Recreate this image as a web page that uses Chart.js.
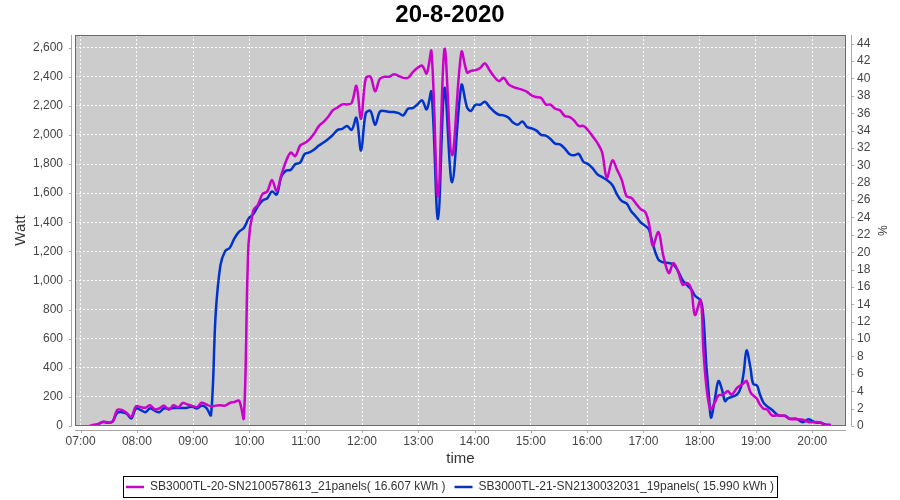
<!DOCTYPE html>
<html><head><meta charset="utf-8">
<script src="https://cdn.jsdelivr.net/npm/chart.js@4.4.1/dist/chart.umd.min.js"></script>
<style>html,body{margin:0;padding:0;background:#fff;}</style>
</head><body>
<canvas id="c" width="900" height="500"></canvas>
<script>
const chartTitle = '20-8-2020';
const seriesNames = ['SB3000TL-20-SN2100578613_21panels( 16.607 kWh )', 'SB3000TL-21-SN2130032031_19panels( 15.990 kWh )'];
const times = ["07:09","07:14","07:19","07:24","07:29","07:34","07:39","07:44","07:49","07:54","07:59","08:04","08:09","08:14","08:19","08:24","08:29","08:34","08:39","08:44","08:49","08:54","08:59","09:04","09:09","09:14","09:19","09:24","09:29","09:34","09:39","09:44","09:49","09:54","09:59","10:04","10:09","10:14","10:19","10:24","10:29","10:34","10:39","10:44","10:49","10:54","10:59","11:04","11:09","11:14","11:19","11:24","11:29","11:34","11:39","11:44","11:49","11:54","11:59","12:04","12:09","12:14","12:19","12:24","12:29","12:34","12:39","12:44","12:49","12:54","12:59","13:04","13:09","13:14","13:21","13:28","13:36","13:46","13:52","13:56","14:01","14:06","14:11","14:16","14:21","14:26","14:31","14:36","14:41","14:46","14:51","14:56","15:01","15:06","15:11","15:16","15:21","15:26","15:31","15:36","15:41","15:46","15:51","15:56","16:01","16:06","16:11","16:16","16:21","16:27","16:32","16:37","16:42","16:47","16:52","16:57","17:02","17:06","17:10","17:16","17:21","17:27","17:32","17:37","17:42","17:47","17:51","17:55","18:01","18:04","18:07","18:10","18:12","18:16","18:20","18:24","18:27","18:30","18:34","18:40","18:44","18:47","18:50","18:54","18:57","19:01","19:04","19:08","19:12","19:17","19:24","19:31","19:36","19:43","19:50","19:56","20:04","20:09","20:14","20:20"];
const sb20 = [0,8,15,30,25,30,110,110,90,62,135,130,125,142,115,120,140,112,142,128,158,148,138,130,160,148,135,140,142,140,158,165,174,53,1250,1480,1520,1595,1612,1690,1616,1725,1820,1879,1855,1927,1945,1970,2010,2061,2090,2125,2170,2190,2210,2210,2220,2337,2111,2390,2400,2300,2385,2400,2400,2418,2405,2393,2393,2430,2460,2476,2423,2575,1577,2591,1860,2570,2430,2440,2446,2460,2492,2445,2400,2370,2393,2350,2330,2320,2310,2296,2270,2261,2254,2210,2208,2180,2170,2131,2124,2100,2062,2062,2032,1990,1945,1880,1706,1825,1760,1690,1580,1568,1530,1490,1470,1390,1239,1333,1177,1051,1120,1060,970,982,940,763,867,520,280,142,114,160,210,215,225,240,215,263,280,295,309,233,210,187,150,119,114,73,73,69,48,46,43,27,27,23,5,5];
const sb21 = [null,0,13,28,22,30,90,95,85,52,120,110,95,122,105,95,122,118,124,124,124,126,133,120,140,124,75,772,1103,1201,1224,1290,1336,1360,1425,1455,1510,1550,1565,1612,1590,1715,1755,1760,1800,1810,1870,1880,1900,1927,1948,1972,2000,2035,2042,2062,2035,2118,1893,2150,2165,2070,2160,2165,2158,2158,2150,2135,2180,2185,2210,2238,2176,2296,1422,2323,1675,2342,2190,2165,2208,2208,2228,2192,2160,2139,2135,2120,2085,2070,2093,2054,2045,2030,2001,1995,1972,1940,1935,1908,1870,1860,1870,1816,1800,1770,1729,1710,1690,1655,1590,1545,1530,1476,1440,1400,1375,1349,1250,1143,1125,1120,1110,1065,1000,965,940,895,862,747,427,199,57,176,309,245,171,190,199,217,267,370,519,405,290,279,222,160,135,112,73,70,50,50,25,46,23,23,11,7];
const wattRange = [0, 2687];
const pctRange = [0, 45];
const timeRange = ["06:54", "20:36"];

const toMin = s => { const [h, m] = s.split(':').map(Number); return h * 60 + m; };
const pts = vals => times.map((t, i) => ({x: toMin(t), y: vals[i]}));

Chart.defaults.font.family = '"Liberation Sans", Arial, sans-serif';
Chart.defaults.font.size = 12;
Chart.defaults.color = '#444';

const decor = {
  id: 'decor',
  beforeDraw(chart) {
    const {ctx, chartArea: a} = chart;
    ctx.save();
    ctx.fillStyle = '#ffffff';
    ctx.fillRect(0, 0, chart.width, chart.height);
    ctx.fillStyle = '#cccccc';
    ctx.fillRect(a.left, a.top, a.right - a.left, a.bottom - a.top);
    ctx.restore();
  },
  afterDraw(chart) {
    const {ctx, chartArea: a, scales} = chart;
    ctx.save();
    ctx.lineWidth = 1;
    ctx.strokeStyle = '#6a6a6a';
    ctx.strokeRect(Math.round(a.left) + 0.5, Math.round(a.top) + 0.5, Math.round(a.right - a.left) - 1, Math.round(a.bottom - a.top) - 1);
    ctx.strokeStyle = '#a8a8a8';
    ctx.beginPath();
    const lx = Math.round(a.left - 4) + 0.5;
    ctx.moveTo(lx, a.top); ctx.lineTo(lx, a.bottom);
    scales.y.ticks.forEach(t => { const y = Math.round(scales.y.getPixelForValue(t.value)) + 0.5; ctx.moveTo(lx - 2.5, y); ctx.lineTo(lx, y); });
    const by = Math.round(a.bottom + 4) + 0.5;
    ctx.moveTo(a.left, by); ctx.lineTo(a.right, by);
    scales.x.ticks.forEach(t => { const x = Math.round(scales.x.getPixelForValue(t.value)) + 0.5; ctx.moveTo(x, by); ctx.lineTo(x, by + 2.5); });
    const rx = Math.round(a.right + 5) + 0.5;
    ctx.moveTo(rx, a.top); ctx.lineTo(rx, a.bottom);
    scales.y1.ticks.forEach(t => { const y = Math.round(scales.y1.getPixelForValue(t.value)) + 0.5; ctx.moveTo(rx, y); ctx.lineTo(rx + 2.5, y); });
    ctx.stroke();
    const lg = chart.legend;
    if (lg && lg.legendHitBoxes && lg.legendHitBoxes.length) {
      const hb = lg.legendHitBoxes;
      const l = Math.min(...hb.map(h => h.left)), r = Math.max(...hb.map(h => h.left + h.width));
      const t = Math.min(...hb.map(h => h.top)), b = Math.max(...hb.map(h => h.top + h.height));
      ctx.strokeStyle = '#000';
      ctx.strokeRect(Math.round(l - 3) + 0.5, Math.round(t - 5) + 0.5, Math.round(r - l + 6), Math.round(b - t + 9));
    }
    ctx.restore();
  }
};

new Chart(document.getElementById('c'), {
  type: 'line',
  data: {
    datasets: [
      {label: seriesNames[0], data: pts(sb20), borderColor: '#cc00cc', backgroundColor: '#cc00cc', borderWidth: 2.5, pointRadius: 0, tension: 0.35, yAxisID: 'y'},
      {label: seriesNames[1], data: pts(sb21), borderColor: '#0033cc', backgroundColor: '#0033cc', borderWidth: 2.5, pointRadius: 0, tension: 0.35, yAxisID: 'y'}
    ]
  },
  options: {
    responsive: false,
    animation: false,
    layout: {padding: {top: 0, bottom: -3, left: 0, right: 0}},
    plugins: {
      title: {display: true, text: chartTitle, color: '#000', font: {size: 24, weight: 'bold', lineHeight: 1}, padding: {top: 3, bottom: 8}},
      legend: {position: 'bottom', labels: {usePointStyle: true, pointStyle: 'line', pointStyleWidth: 18, boxHeight: 12, padding: 9, color: '#333', font: {size: 12}}},
      tooltip: {enabled: false}
    },
    scales: {
      x: {
        type: 'linear', min: toMin(timeRange[0]), max: toMin(timeRange[1]),
        afterBuildTicks: s => { s.ticks = s.ticks.filter(t => t.value % 60 === 0 && t.value >= s.min && t.value <= s.max); },
        afterFit: s => { s.height = 46; },
        ticks: {stepSize: 60, includeBounds: false, autoSkip: false, maxRotation: 0, padding: 8, color: '#444',
          callback: v => String(Math.floor(v / 60)).padStart(2, '0') + ':00'},
        grid: {color: 'rgba(255,255,255,0.95)', lineWidth: 1, drawTicks: false},
        border: {display: false, dash: [2, 2]},
        title: {display: true, text: 'time', color: '#333', font: {size: 15}, padding: {top: 0, bottom: 4}}
      },
      y: {
        position: 'left', min: wattRange[0], max: wattRange[1],
        afterFit: s => { s.width = 75; },
        ticks: {stepSize: 200, includeBounds: false, autoSkip: false, padding: 12, color: '#444', callback: v => v.toLocaleString('en-US')},
        grid: {color: 'rgba(255,255,255,0.95)', lineWidth: 1, drawTicks: false},
        border: {display: false, dash: [2, 2]},
        title: {display: true, text: 'Watt', color: '#333', font: {size: 15}, padding: {top: 12, bottom: 0}}
      },
      y1: {
        position: 'right', min: pctRange[0], max: pctRange[1],
        afterFit: s => { s.width = 54; },
        ticks: {stepSize: 2, includeBounds: false, autoSkip: false, padding: 11, color: '#444'},
        grid: {drawOnChartArea: false, drawTicks: false},
        border: {display: false},
        title: {display: true, text: '%', color: '#333', font: {size: 12}, padding: {top: 11, bottom: 0}}
      }
    }
  },
  plugins: [decor]
});
</script>
</body></html>
